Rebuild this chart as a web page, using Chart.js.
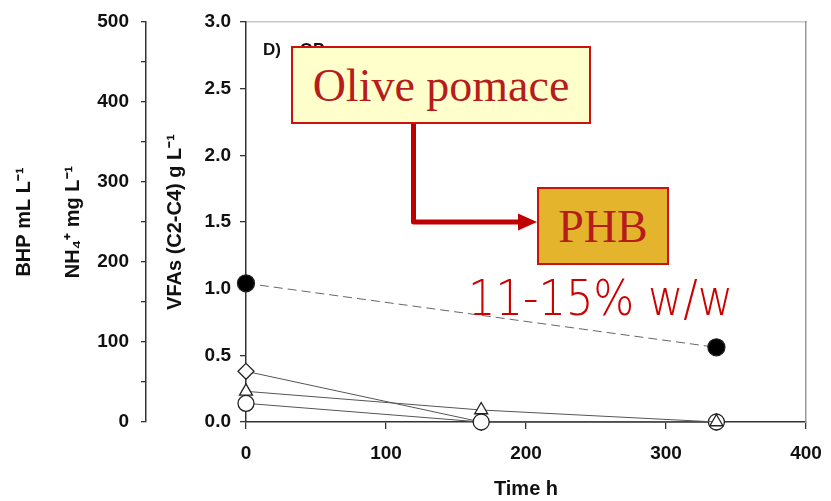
<!DOCTYPE html>
<html>
<head>
<meta charset="utf-8">
<script src="https://cdn.jsdelivr.net/npm/chart.js@4.4.1/dist/chart.umd.min.js"></script>
<style>
  html, body { margin: 0; padding: 0; background: #fff; }
  #wrap { position: relative; width: 831px; height: 501px; overflow: hidden; }
  #chart { position: absolute; left: 0; top: 0; }
  .note { position: absolute; white-space: nowrap; }
  #panel { left: 263px; top: 41px; font: bold 17px 'Liberation Sans', Arial, sans-serif; line-height: 17px; color: #111; }
  .box { position: absolute; box-sizing: border-box; border: 2px solid #cc1111; display: flex; align-items: center; justify-content: center;
         font-family: 'Liberation Serif', 'Times New Roman', serif; font-size: 46px; color: #b71c1c; }
  #olive { left: 291px; top: 46px; width: 300px; height: 78px; background: #ffffcc; }
  #phb { left: 537px; top: 187px; width: 132px; height: 78px; background: #e4b42c; }
  #yield { left: 468px; top: 274px; font-family: 'DejaVu Sans', Lato, sans-serif; font-weight: 200; font-size: 49px; line-height: 49px; color: #cc0000; transform-origin: 0 0; }
  #arrow { position: absolute; left: 0; top: 0; }
</style>
</head>
<body>
<div id="wrap">
  <canvas id="chart" width="831" height="501"></canvas>
  <div class="note" id="panel">D)&nbsp;&nbsp;&nbsp;&nbsp;OP</div>
  <svg id="arrow" width="831" height="501">
    <polyline points="413.5,124 413.5,222 520,222" fill="none" stroke="#c00000" stroke-width="5" stroke-linejoin="round" />
    <polygon points="518,213.5 537,222 518,230.5" fill="#c00000" />
  </svg>
  <div class="box" id="olive">Olive pomace</div>
  <div class="box" id="phb">PHB</div>
  <div class="note" id="yield">11-15% w/w</div>
</div>
<script>
// sampling times (h)
var hours = [0, 168, 336];

// VFAs g/L, one series per marker
var filledCircle = [1.04, null, 0.56];
var openDiamond = [0.38, 0.0, 0.0];
var openTriangle = [0.23, 0.09, 0.0];
var openCircle = [0.14, 0.0, 0.0];

// axis ranges and tick steps
var xMax = 400, xStep = 100;
var vfaMax = 3.0, vfaStep = 0.5;
var bhpMax = 500, bhpStep = 50;

function toPoints(values) {
    return hours.map(function(h, i) {
        return { x: h, y: values[i] };
    });
}

// fit the yield text to the width it has in the slide
var yieldText = document.getElementById('yield');
yieldText.style.transform = 'scaleX(' + (265 / yieldText.offsetWidth) + ')';

Chart.defaults.font.family = "'Liberation Sans', Arial, sans-serif";
Chart.defaults.font.weight = 'bold';
Chart.defaults.color = '#111';

var tickFont = { size: 19, weight: 'bold' };
var titleFont = { size: 20, weight: 'bold' };

function noPadY(s) { s.paddingTop = 0; s.paddingBottom = 0; }

var lineStyle = {
    showLine: true,
    fill: false,
    clip: false,
    borderWidth: 1,
    pointBorderColor: '#222',
    pointBorderWidth: 1.3,
    pointHoverRadius: 8,
    spanGaps: true
};

var myChart = new Chart(document.getElementById('chart'), {
    type: 'scatter',
    data: {
        datasets: [
            Object.assign({}, lineStyle, {
                label: 'filled',
                data: toPoints(filledCircle),
                borderColor: '#666',
                borderDash: [9, 5],
                pointStyle: 'circle',
                pointRadius: 8.5,
                pointBackgroundColor: '#000',
                order: 0
            }),
            Object.assign({}, lineStyle, {
                label: 'triangle',
                data: toPoints(openTriangle),
                borderColor: '#555',
                pointStyle: 'triangle',
                pointRadius: 7.5,
                pointBackgroundColor: '#fff',
                order: 1
            }),
            Object.assign({}, lineStyle, {
                label: 'circle',
                data: toPoints(openCircle),
                borderColor: '#555',
                pointStyle: 'circle',
                pointRadius: 8,
                pointBackgroundColor: '#fff',
                order: 2
            }),
            Object.assign({}, lineStyle, {
                label: 'diamond',
                data: toPoints(openDiamond),
                borderColor: '#555',
                pointStyle: 'rectRot',
                pointRadius: 8,
                pointBackgroundColor: '#fff',
                order: 3
            })
        ]
    },
    options: {
        responsive: false,
        animation: false,
        devicePixelRatio: 1,
        layout: { padding: { top: 22, right: 25, left: 0, bottom: 0 } },
        plugins: { legend: { display: false }, tooltip: { enabled: false } },
        scales: {
            x: {
                type: 'linear', position: 'bottom', min: 0, max: xMax,
                ticks: { stepSize: xStep, padding: 13, font: tickFont, color: '#111' },
                grid: { drawOnChartArea: false, tickLength: 7, color: '#333', lineWidth: 1.3 },
                border: { color: '#333', width: 1.5 },
                title: { display: true, text: 'Time h', font: titleFont, color: '#111', padding: { top: 0, bottom: 0 } },
                afterFit: function(s) { s.height = 79; s.paddingLeft = 0; s.paddingRight = 0; }
            },
            xTop: {
                type: 'linear', position: 'top', min: 0, max: xMax,
                ticks: { display: false },
                grid: { drawOnChartArea: false, drawTicks: false },
                border: { color: '#c8c8c8', width: 1.5 },
                afterFit: function(s) { s.height = 0; s.paddingLeft = 0; s.paddingRight = 0; }
            },
            y: {
                type: 'linear', position: 'left', weight: 0, min: 0, max: vfaMax,
                ticks: { stepSize: vfaStep, padding: 9, font: tickFont, color: '#111',
                    callback: function(v) { return v.toFixed(1); } },
                grid: { drawOnChartArea: false, tickLength: 6, color: '#333', lineWidth: 1.3 },
                border: { color: '#333', width: 1.5 },
                title: { display: true, text: 'VFAs (C2-C4) g L\u207B\u00B9', font: titleFont, color: '#111', padding: { top: 17, bottom: 0 } },
                afterFit: function(s) { s.width = 100; noPadY(s); }
            },
            yBhp: {
                type: 'linear', position: 'left', weight: 10, min: 0, max: bhpMax,
                ticks: { stepSize: bhpStep, padding: 12, font: tickFont, color: '#111', autoSkip: false,
                    callback: function(v) { return v % 100 === 0 ? v : ''; } },
                grid: { drawOnChartArea: false, tickLength: 5, color: '#333', lineWidth: 1.3 },
                border: { color: '#333', width: 1.5 },
                title: { display: true, text: ['BHP mL L\u207B\u00B9', 'NH\u2084\u207A mg L\u207B\u00B9'],
                    font: { size: 20, weight: 'bold', lineHeight: 2.45 }, color: '#111', padding: { top: 0, bottom: 0 } },
                afterFit: function(s) { s.width = 146; noPadY(s); }
            },
            yRight: {
                type: 'linear', position: 'right', min: 0, max: vfaMax,
                ticks: { display: false },
                grid: { drawOnChartArea: false, drawTicks: false },
                border: { color: '#999', width: 1.5 },
                afterFit: function(s) { s.width = 0; noPadY(s); }
            }
        }
    }
});
</script>
</body>
</html>
